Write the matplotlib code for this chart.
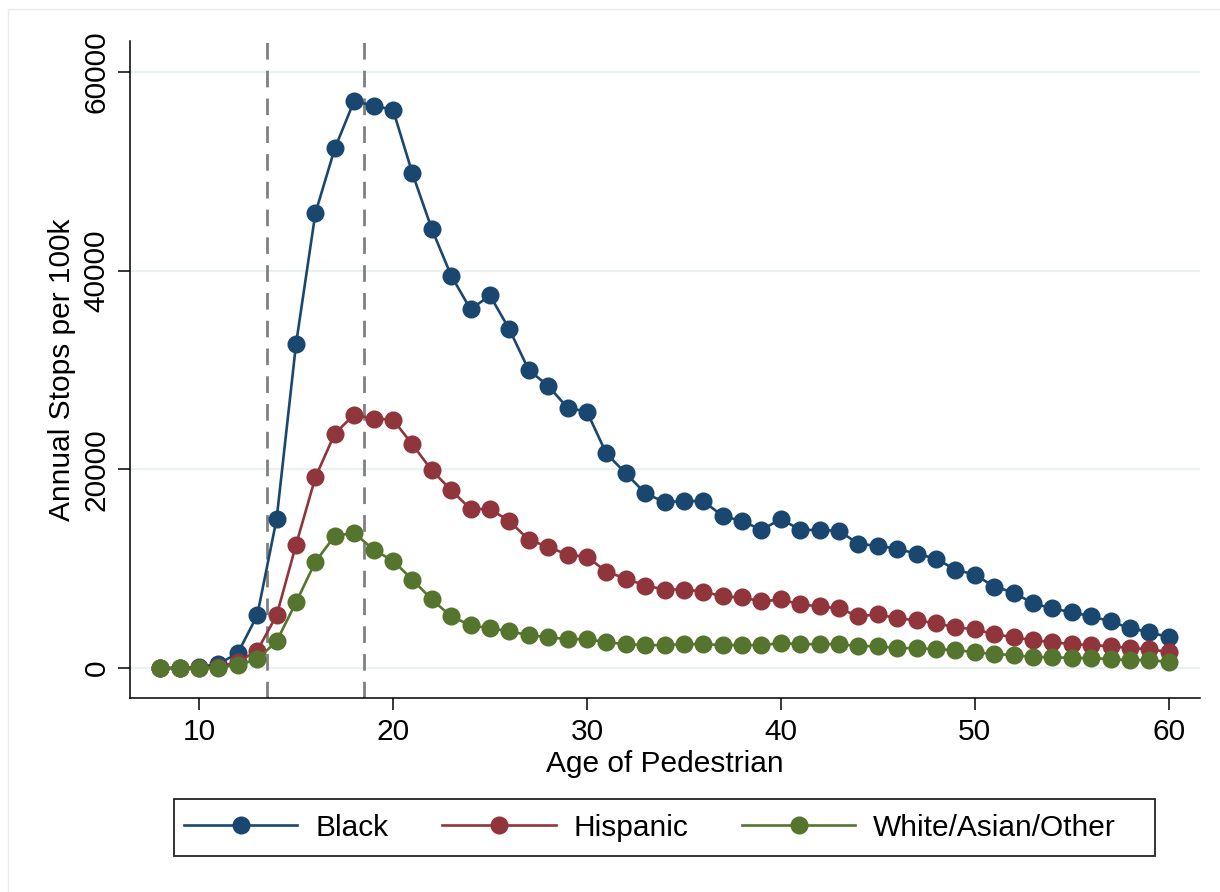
import numpy as np
import matplotlib
matplotlib.use('Agg')
from matplotlib import pyplot as plt
from matplotlib.lines import Line2D
from matplotlib.patches import Rectangle

plt.rcParams['font.family'] = ['Liberation Sans', 'DejaVu Sans']

ages = list(range(8, 61))

black = [0, 0, 100, 400, 1500, 5300, 15000, 32600, 45800, 52300,
         57100, 56600, 56200, 49800, 44200, 39500, 36100, 37500, 34100, 30000,
         28400, 26200, 25800, 21600, 19600, 17600, 16700, 16800, 16800, 15300,
         14800, 13900, 15000, 13900, 13900, 13800, 12500, 12300, 12000, 11500,
         11000, 9900, 9400, 8200, 7600, 6500, 6000, 5600, 5200, 4700,
         4000, 3600, 3100]

hispanic = [0, 0, 0, 150, 600, 1750, 5300, 12400, 19200, 23600,
            25500, 25100, 25000, 22500, 19900, 17900, 16000, 16000, 14800, 12900,
            12200, 11400, 11200, 9700, 9000, 8300, 7900, 7900, 7700, 7200,
            7100, 6700, 6900, 6400, 6200, 6000, 5200, 5400, 5000, 4800,
            4500, 4100, 3900, 3400, 3100, 2800, 2600, 2400, 2300, 2200,
            2000, 1900, 1600]

white = [0, 0, 0, 50, 300, 870, 2700, 6600, 10700, 13300,
         13600, 11900, 10800, 8900, 6900, 5200, 4300, 4000, 3700, 3300,
         3100, 2900, 2900, 2600, 2400, 2300, 2300, 2400, 2400, 2300,
         2300, 2300, 2500, 2400, 2400, 2400, 2200, 2200, 2000, 2000,
         1900, 1800, 1600, 1400, 1300, 1100, 1100, 1000, 1000, 900,
         800, 800, 600]

series_names = ['Black', 'Hispanic', 'White/Asian/Other']
series_colors = ['#1a476f', '#90353b', '#55752f']
cutoffs = [13.5, 18.5]
x_ticks = [10, 20, 30, 40, 50, 60]
y_ticks = [0, 20000, 40000, 60000]

W, H = 1220, 892
fig = plt.figure(figsize=(W / 100, H / 100), dpi=100)
fig.patch.set_facecolor('white')

# axes box in pixels: left 130, right 1200, top 41, bottom 698
ax = fig.add_axes([130 / W, (H - 698) / H, 1070 / W, 657 / H])

for yv in y_ticks:
    ax.axhline(yv, color='#e9f1f3', lw=1.6, zorder=0)

for xv in cutoffs:
    ax.axvline(xv, color='#808080', lw=2.0, dashes=(6, 4), zorder=1)

handles = []
for vals, name, col in zip([black, hispanic, white], series_names, series_colors):
    h, = ax.plot(ages, vals, color=col, lw=1.9, marker='o', markersize=13,
                 markeredgewidth=0, label=name, zorder=3)
    handles.append(h)

ax.set_xlim(6.44, 61.61)
ax.set_ylim(-3020, 63120)

ax.set_xticks(x_ticks)
ax.set_yticks(y_ticks)
ax.set_yticklabels([str(v) for v in y_ticks], rotation=90, va='center')
ax.tick_params(axis='y', length=9, width=1.1, pad=5, labelsize=21.5)
ax.tick_params(axis='x', length=8.5, width=1.1, pad=6, labelsize=21.5)

for s in ['top', 'right']:
    ax.spines[s].set_visible(False)
for s in ['left', 'bottom']:
    ax.spines[s].set_linewidth(1.1)

ax.set_xlabel('Age of Pedestrian', fontsize=21.5, labelpad=3)
ax.set_ylabel('Annual Stops per 100k', fontsize=21.5, labelpad=5)

# legend box drawn separately so the padding matches
fig.patches.append(Rectangle((174 / W, (H - 856) / H), 981 / W, 57 / H,
                             transform=fig.transFigure, fill=False,
                             edgecolor='#222222', lw=1.3))
fig.legend(handles=handles, loc='center', bbox_to_anchor=(650 / W, (H - 827.5) / H),
           ncol=3, frameon=False, fontsize=21.5, handlelength=3.8,
           handletextpad=0.6, columnspacing=1.8, borderpad=0)

# faint outer frame
fig.lines.append(Line2D([8 / W, 8 / W, 1], [0, (H - 9) / H, (H - 9) / H],
                        transform=fig.transFigure, color='#ececec', lw=1))

fig.savefig('out.png', dpi=100)
